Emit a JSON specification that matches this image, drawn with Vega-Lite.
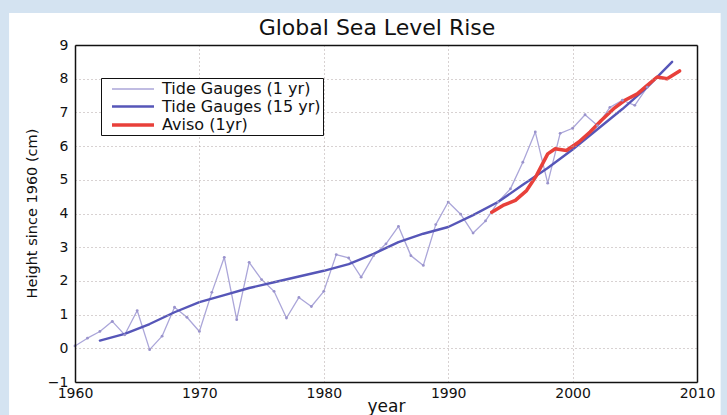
{
  "$schema": "https://vega.github.io/schema/vega-lite/v6.json",
  "width": 622,
  "height": 337,
  "autosize": {"type": "none"},
  "padding": {"left": 75, "top": 45, "right": 30, "bottom": 33},
  "background": "#d4e3f1",
  "title": {"text": "Global Sea Level Rise", "fontSize": 22, "font": "DejaVu Sans", "fontWeight": "normal", "color": "#111", "frame": "group", "offset": -27, "dx": -9, "zindex": 2},
  "config": {
    "view": {"stroke": null, "fill": null}
  },
  "resolve": {"axis": {"x": "independent", "y": "independent"}},
  "datasets": {
    "lines": [
      {"series": "Tide Gauges (1 yr)", "year": 1960, "height": 0.07},
      {"series": "Tide Gauges (1 yr)", "year": 1961, "height": 0.3},
      {"series": "Tide Gauges (1 yr)", "year": 1962, "height": 0.5},
      {"series": "Tide Gauges (1 yr)", "year": 1963, "height": 0.8},
      {"series": "Tide Gauges (1 yr)", "year": 1964, "height": 0.4},
      {"series": "Tide Gauges (1 yr)", "year": 1965, "height": 1.12},
      {"series": "Tide Gauges (1 yr)", "year": 1966, "height": -0.04},
      {"series": "Tide Gauges (1 yr)", "year": 1967, "height": 0.36},
      {"series": "Tide Gauges (1 yr)", "year": 1968, "height": 1.22},
      {"series": "Tide Gauges (1 yr)", "year": 1969, "height": 0.92},
      {"series": "Tide Gauges (1 yr)", "year": 1970, "height": 0.5},
      {"series": "Tide Gauges (1 yr)", "year": 1971, "height": 1.66},
      {"series": "Tide Gauges (1 yr)", "year": 1972, "height": 2.7},
      {"series": "Tide Gauges (1 yr)", "year": 1973, "height": 0.85},
      {"series": "Tide Gauges (1 yr)", "year": 1974, "height": 2.55},
      {"series": "Tide Gauges (1 yr)", "year": 1975, "height": 2.04},
      {"series": "Tide Gauges (1 yr)", "year": 1976, "height": 1.69},
      {"series": "Tide Gauges (1 yr)", "year": 1977, "height": 0.9},
      {"series": "Tide Gauges (1 yr)", "year": 1978, "height": 1.51},
      {"series": "Tide Gauges (1 yr)", "year": 1979, "height": 1.24},
      {"series": "Tide Gauges (1 yr)", "year": 1980, "height": 1.69},
      {"series": "Tide Gauges (1 yr)", "year": 1981, "height": 2.78},
      {"series": "Tide Gauges (1 yr)", "year": 1982, "height": 2.68},
      {"series": "Tide Gauges (1 yr)", "year": 1983, "height": 2.11},
      {"series": "Tide Gauges (1 yr)", "year": 1984, "height": 2.75},
      {"series": "Tide Gauges (1 yr)", "year": 1985, "height": 3.1},
      {"series": "Tide Gauges (1 yr)", "year": 1986, "height": 3.62},
      {"series": "Tide Gauges (1 yr)", "year": 1987, "height": 2.75},
      {"series": "Tide Gauges (1 yr)", "year": 1988, "height": 2.46},
      {"series": "Tide Gauges (1 yr)", "year": 1989, "height": 3.67},
      {"series": "Tide Gauges (1 yr)", "year": 1990, "height": 4.34},
      {"series": "Tide Gauges (1 yr)", "year": 1991, "height": 3.98},
      {"series": "Tide Gauges (1 yr)", "year": 1992, "height": 3.42},
      {"series": "Tide Gauges (1 yr)", "year": 1993, "height": 3.78},
      {"series": "Tide Gauges (1 yr)", "year": 1994, "height": 4.34},
      {"series": "Tide Gauges (1 yr)", "year": 1995, "height": 4.73},
      {"series": "Tide Gauges (1 yr)", "year": 1996, "height": 5.52},
      {"series": "Tide Gauges (1 yr)", "year": 1997, "height": 6.42},
      {"series": "Tide Gauges (1 yr)", "year": 1998, "height": 4.9},
      {"series": "Tide Gauges (1 yr)", "year": 1999, "height": 6.38},
      {"series": "Tide Gauges (1 yr)", "year": 2000, "height": 6.53},
      {"series": "Tide Gauges (1 yr)", "year": 2001, "height": 6.93},
      {"series": "Tide Gauges (1 yr)", "year": 2002, "height": 6.61},
      {"series": "Tide Gauges (1 yr)", "year": 2003, "height": 7.15},
      {"series": "Tide Gauges (1 yr)", "year": 2004, "height": 7.36},
      {"series": "Tide Gauges (1 yr)", "year": 2005, "height": 7.21},
      {"series": "Tide Gauges (1 yr)", "year": 2006, "height": 7.75},
      {"series": "Tide Gauges (15 yr)", "year": 1962, "height": 0.23},
      {"series": "Tide Gauges (15 yr)", "year": 1964, "height": 0.43},
      {"series": "Tide Gauges (15 yr)", "year": 1966, "height": 0.72},
      {"series": "Tide Gauges (15 yr)", "year": 1968, "height": 1.07},
      {"series": "Tide Gauges (15 yr)", "year": 1970, "height": 1.37},
      {"series": "Tide Gauges (15 yr)", "year": 1972, "height": 1.58},
      {"series": "Tide Gauges (15 yr)", "year": 1974, "height": 1.79},
      {"series": "Tide Gauges (15 yr)", "year": 1976, "height": 1.96},
      {"series": "Tide Gauges (15 yr)", "year": 1978, "height": 2.13},
      {"series": "Tide Gauges (15 yr)", "year": 1980, "height": 2.3},
      {"series": "Tide Gauges (15 yr)", "year": 1982, "height": 2.5},
      {"series": "Tide Gauges (15 yr)", "year": 1984, "height": 2.8},
      {"series": "Tide Gauges (15 yr)", "year": 1986, "height": 3.15},
      {"series": "Tide Gauges (15 yr)", "year": 1988, "height": 3.4},
      {"series": "Tide Gauges (15 yr)", "year": 1990, "height": 3.6},
      {"series": "Tide Gauges (15 yr)", "year": 1992, "height": 3.95},
      {"series": "Tide Gauges (15 yr)", "year": 1994, "height": 4.34},
      {"series": "Tide Gauges (15 yr)", "year": 1996, "height": 4.85},
      {"series": "Tide Gauges (15 yr)", "year": 1998, "height": 5.35},
      {"series": "Tide Gauges (15 yr)", "year": 2000, "height": 5.9},
      {"series": "Tide Gauges (15 yr)", "year": 2002, "height": 6.5},
      {"series": "Tide Gauges (15 yr)", "year": 2004, "height": 7.1},
      {"series": "Tide Gauges (15 yr)", "year": 2006, "height": 7.75},
      {"series": "Tide Gauges (15 yr)", "year": 2008, "height": 8.5},
      {"series": "Aviso (1yr)", "year": 1993.5, "height": 4.04},
      {"series": "Aviso (1yr)", "year": 1994.4, "height": 4.24},
      {"series": "Aviso (1yr)", "year": 1995.4, "height": 4.39},
      {"series": "Aviso (1yr)", "year": 1996.3, "height": 4.68},
      {"series": "Aviso (1yr)", "year": 1997.1, "height": 5.13},
      {"series": "Aviso (1yr)", "year": 1998.0, "height": 5.77},
      {"series": "Aviso (1yr)", "year": 1998.6, "height": 5.92},
      {"series": "Aviso (1yr)", "year": 1999.5, "height": 5.87},
      {"series": "Aviso (1yr)", "year": 2000.5, "height": 6.12},
      {"series": "Aviso (1yr)", "year": 2001.4, "height": 6.42},
      {"series": "Aviso (1yr)", "year": 2002.3, "height": 6.76},
      {"series": "Aviso (1yr)", "year": 2003.3, "height": 7.11},
      {"series": "Aviso (1yr)", "year": 2004.2, "height": 7.36},
      {"series": "Aviso (1yr)", "year": 2005.2, "height": 7.55},
      {"series": "Aviso (1yr)", "year": 2006.0, "height": 7.8},
      {"series": "Aviso (1yr)", "year": 2006.8, "height": 8.05},
      {"series": "Aviso (1yr)", "year": 2007.6, "height": 8.0},
      {"series": "Aviso (1yr)", "year": 2008.6, "height": 8.23}
    ]
  },
  "layer": [
    {
      "data": {"values": [{"panel": "white"}]},
      "mark": {"type": "rect", "color": "white"},
      "encoding": {
        "x": {"datum": 1954.7, "type": "quantitative",
              "axis": {"orient": "top", "zindex": 2, "labels": false, "ticks": false, "grid": false, "title": null, "domain": true, "domainColor": "#111", "domainWidth": 1.5}},
        "x2": {"datum": 2011.9},
        "y": {"datum": 9.95, "type": "quantitative",
              "axis": {"orient": "right", "zindex": 2, "labels": false, "ticks": false, "grid": false, "title": null, "domain": true, "domainColor": "#111", "domainWidth": 1.5}},
        "y2": {"datum": -2.3}
      }
    },
    {
      "data": {"name": "lines"},
      "mark": {"type": "line", "strokeCap": "round", "strokeJoin": "round"},
      "encoding": {
        "x": {"field": "year", "type": "quantitative", "scale": {"domain": [1960, 2010], "nice": false, "zero": false},
              "axis": {"orient": "bottom", "zindex": 2, "title": "year", "values": [1960, 1970, 1980, 1990, 2000, 2010], "format": "d",
                       "domain": true, "domainColor": "#111", "domainWidth": 1.5, "ticks": false,
                       "grid": true, "gridDash": [1, 3], "gridColor": "#b0a4a4", "gridWidth": 1,
                       "labelFont": "DejaVu Sans", "labelColor": "#111", "labelFontSize": 14, "labelPadding": 4, "labelFlush": false,
                       "titleFont": "DejaVu Sans", "titleColor": "#111", "titleFontWeight": "normal", "titleFontSize": 17,
                       "titleY": 29, "titleBaseline": "alphabetic"}},
        "y": {"field": "height", "type": "quantitative", "scale": {"domain": [-1, 9], "nice": false, "zero": false},
              "axis": {"orient": "left", "zindex": 2, "title": "Height since 1960 (cm)", "values": [-1, 0, 1, 2, 3, 4, 5, 6, 7, 8, 9],
                       "domain": true, "domainColor": "#111", "domainWidth": 1.5, "ticks": false,
                       "grid": true, "gridDash": [1, 3], "gridColor": "#b0a4a4", "gridWidth": 1,
                       "labelFont": "DejaVu Sans", "labelColor": "#111", "labelFontSize": 14, "labelPadding": 7,
                       "titleFont": "DejaVu Sans", "titleColor": "#111", "titleFontWeight": "normal", "titleFontSize": 14.5,
                       "titleX": -43, "titleY": 168, "titleBaseline": "middle", "titleAlign": "center", "titleAngle": -90}},
        "color": {"field": "series", "type": "nominal",
                  "scale": {"domain": ["Tide Gauges (1 yr)", "Tide Gauges (15 yr)", "Aviso (1yr)"], "range": ["#aba6d9", "#5656b8", "#e8403a"]},
                  "legend": {"title": null, "orient": "none", "legendX": 26, "legendY": 33, "strokeColor": "#111", "fillColor": "white", "padding": 2,
                             "symbolType": "M-0.125,0H5.125", "symbolSize": 256, "labelFontSize": 16, "labelFont": "DejaVu Sans", "labelColor": "#111",
                             "labelOffset": 39, "rowPadding": -3, "zindex": 2}},
        "strokeWidth": {"field": "series", "type": "nominal",
                        "scale": {"domain": ["Tide Gauges (1 yr)", "Tide Gauges (15 yr)", "Aviso (1yr)"], "range": [1.3, 3.5, 2.6]},
                        "legend": null}
      }
    },
    {
      "data": {"name": "lines"},
      "transform": [{"filter": "datum.series === 'Tide Gauges (1 yr)'"}],
      "mark": {"type": "point", "filled": true, "size": 8, "color": "#9a93cc", "opacity": 1},
      "encoding": {
        "x": {"field": "year", "type": "quantitative", "axis": null},
        "y": {"field": "height", "type": "quantitative", "axis": null}
      }
    }
  ]
}
